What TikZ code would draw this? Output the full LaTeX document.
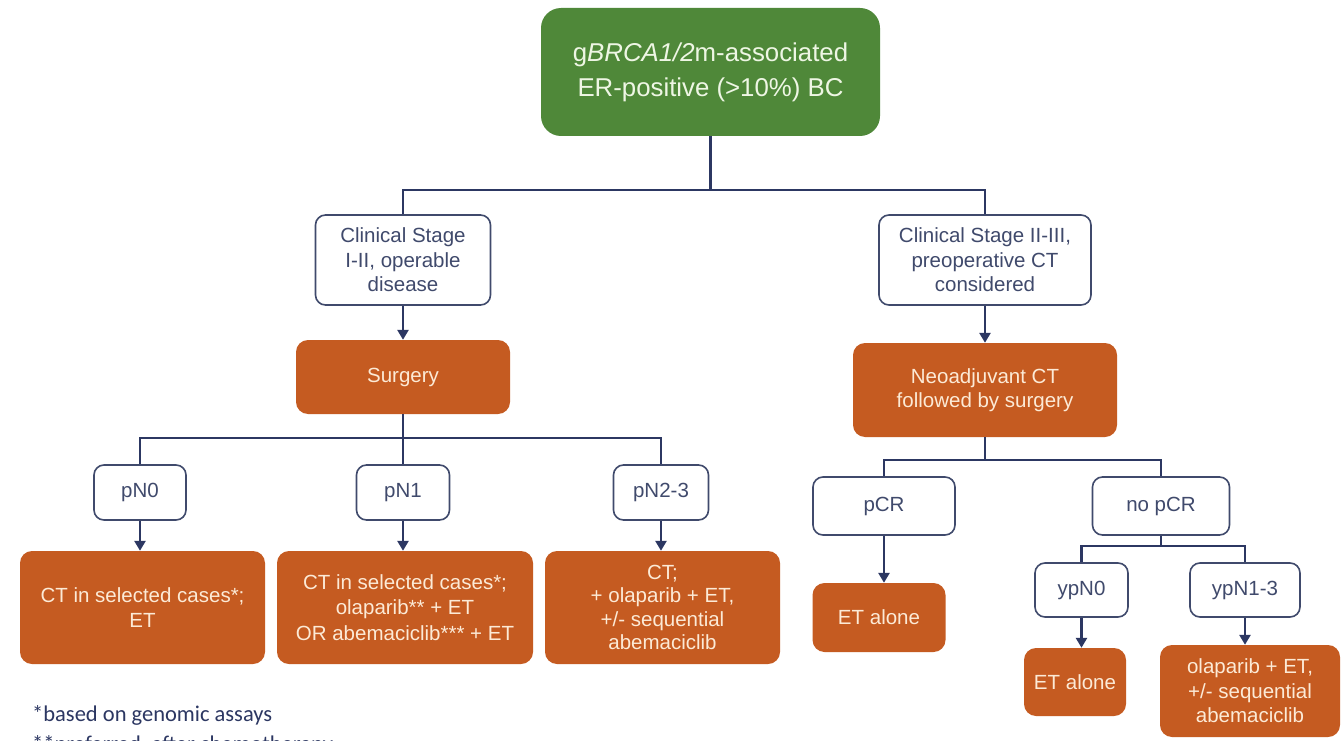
\documentclass[tikz,border=0pt]{standalone}
\usepackage{fontspec}
\setmainfont{Liberation Sans}
\newfontfamily\notefont{Carlito}
\usetikzlibrary{arrows.meta}

\definecolor{leaf}{RGB}{79,136,57}
\definecolor{rust}{RGB}{197,91,33}
\definecolor{ink}{RGB}{44,55,98}
\definecolor{frame}{RGB}{64,74,108}
\definecolor{cream}{RGB}{252,234,214}
\definecolor{mint}{RGB}{238,246,228}

\tikzset{
  base/.style={rounded corners=10pt, align=center, inner sep=0pt,
               font=\fontsize{20.5}{24.5}\selectfont},
  stage/.style={base, draw=frame, line width=1.6pt, fill=white, text=frame},
  act/.style={base, fill=rust, text=cream, rounded corners=12pt},
  link/.style={draw=ink, line width=2.6pt},
  arr/.style={link, -{Triangle[length=10pt,width=11pt]}},
  sz/.style 2 args={minimum width=#1pt, minimum height=#2pt},
}

\begin{document}
\begin{tikzpicture}[x=1pt,y=-1pt]
\clip (0,0) rectangle (1344,741);
\fill[white] (0,0) rectangle (1344,741);

% root
\node[base, fill=leaf, text=mint, rounded corners=20pt, sz={339}{128},
      font=\fontsize{25.8}{35}\selectfont] (top) at (710.5,72)
  {g\textit{BRCA1/2}m-associated\\ER-positive (>10\%) BC};

% clinical stages
\node[stage, sz={175}{90}] (cs1) at (403,260) {Clinical Stage\\I-II, operable\\disease};
\node[stage, sz={212}{90}] (cs2) at (985,260) {Clinical Stage II-III,\\preoperative CT\\considered};

% primary treatments
\node[act, sz={214}{74}] (surg) at (403,377) {Surgery};
\node[act, sz={264}{94}] (neo) at (985,390) {Neoadjuvant CT\\followed by surgery};

% nodal status after surgery
\node[stage, sz={92}{55}] (pn0) at (140,492.5) {pN0};
\node[stage, sz={93}{55}] (pn1) at (403,492.5) {pN1};
\node[stage, sz={95}{55}] (pn2) at (661,492.5) {pN2-3};

\node[act, sz={245}{113}] (o1) at (142.5,607.5) {CT in selected cases*;\\ET};
\node[act, sz={256}{113}, font=\fontsize{20.5}{25.5}\selectfont] (o2) at (405,607.5)
  {CT in selected cases*;\\olaparib** + ET\\OR abemaciclib*** + ET};
\node[act, sz={235}{113}, font=\fontsize{20.5}{23.4}\selectfont] (o3) at (662.5,607.5)
  {CT;\\+ olaparib + ET,\\+/- sequential\\abemaciclib};

% response after neoadjuvant therapy
\node[stage, sz={142}{58}] (pcr) at (884,506) {pCR};
\node[stage, sz={137}{58}] (npcr) at (1161,506) {no pCR};
\node[act, sz={133}{69}] (et1) at (879,617.5) {ET alone};

\node[stage, sz={93}{54}] (ypn0) at (1081.5,590) {ypN0};
\node[stage, sz={110}{54}] (ypn13) at (1245,590) {ypN1-3};
\node[act, sz={102}{68}] (et2) at (1075,682) {ET alone};
\node[act, sz={180}{92}] (ola) at (1250,691) {olaparib + ET,\\+/- sequential\\abemaciclib};

% junctions
\coordinate (j1) at (top.south |- 0,190);
\coordinate (j2) at (surg.south |- 0,438);
\coordinate (j3) at (neo.south |- 0,460);
\coordinate (j4) at (npcr.south |- 0,546);

% connectors
\draw[link] (top.south) -- (j1);
\draw[link] (cs1.north) |- (j1) -| (cs2.north);
\draw[arr] (cs1.south) -- (cs1.south |- surg.north);
\draw[arr] (cs2.south) -- (cs2.south |- neo.north);

\draw[link] (surg.south) -- (j2);
\draw[link] (pn0.north) |- (j2) -| (pn2.north);
\draw[link] (j2) -- (pn1.north);
\draw[arr] (pn0.south) -- (pn0.south |- o1.north);
\draw[arr] (pn1.south) -- (pn1.south |- o2.north);
\draw[arr] (pn2.south) -- (pn2.south |- o3.north);

\draw[link] (neo.south) -- (j3);
\draw[link] (pcr.north) |- (j3) -| (npcr.north);
\draw[arr] (pcr.south) -- (pcr.south |- et1.north);

\draw[link] (npcr.south) -- (j4);
\draw[link] (ypn0.north) |- (j4) -| (ypn13.north);
\draw[arr] (ypn0.south) -- (ypn0.south |- et2.north);
\draw[arr] (ypn13.south) -- (ypn13.south |- ola.north);

% footnotes (second line runs off the lower edge)
\node[anchor=north west, align=left, inner sep=0pt, text=ink,
      font=\notefont\fontsize{22.5}{30}\selectfont] (notes) at (32,705)
  {*based on genomic assays\\**preferred, after chemotherapy};
\end{tikzpicture}
\end{document}
